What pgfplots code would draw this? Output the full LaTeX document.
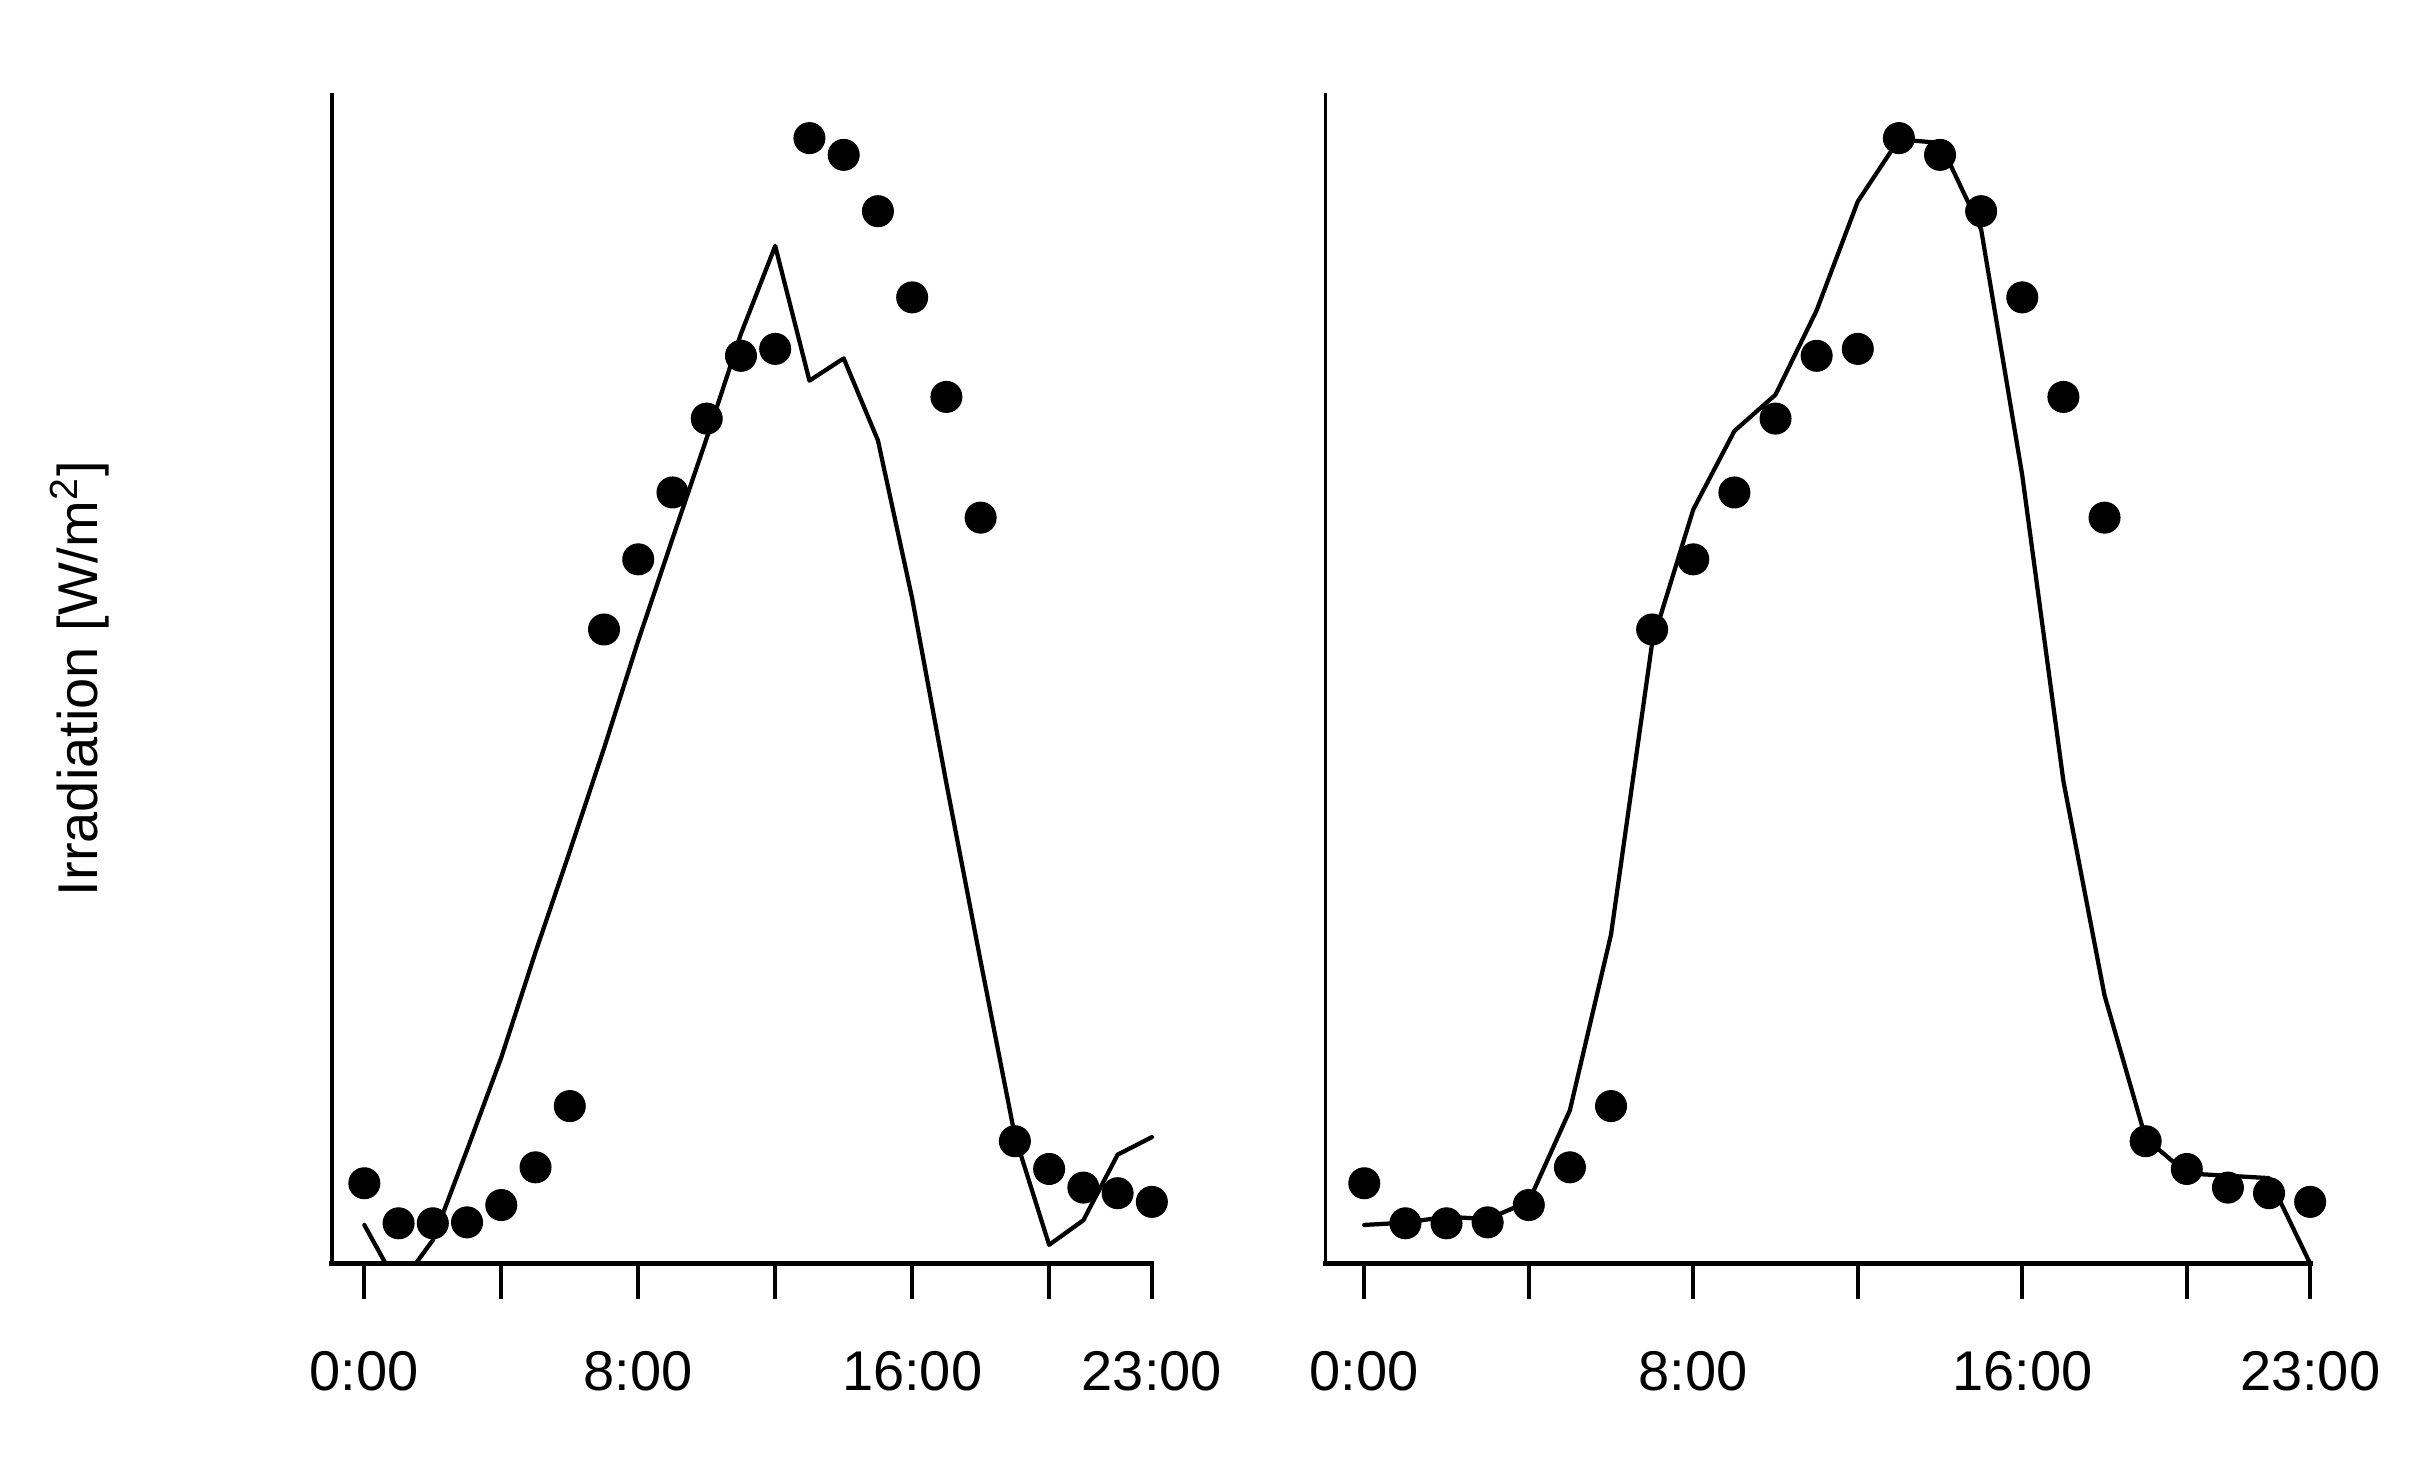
\documentclass[border=0pt]{standalone}
\usepackage{fontspec}
\setmainfont{Liberation Sans}
\usepackage{pgfplots}
\usepackage{pgfplotstable}
\pgfplotsset{compat=1.18}

% hour, measured irradiation (dots), model A (left line), model B (right line)
\pgfplotstableread{
h   dot    lineA  lineB
0   68.6   33     33
1   34.4   -20    35
2   34.4   20     40
3   35.2   97     38
4   50.0   176    53
5   82.2   266    131
6   134.5  352    281
7   541.5  440    530
8   601.4  532    644
9   658.5  619    711
10  721.6  705    742
11  775.2  794    814
12  781.1  869    907
13  961.1  754    960
14  946.8  773    957
15  898.7  703    883
16  825.1  568    673
17  740.1  410    412
18  637.0  258    229
19  104.5  109    107
20  80.8   16     77
21  64.9   37     75
22  60.1   93     73
23  52.7   108    0
}\irrdata

\begin{document}
\begin{tikzpicture}
\useasboundingbox (0,0) rectangle (486.2pt,293.4pt);
\pgfplotsset{
  panel/.style={
    scale only axis, anchor=south west,
    height=234.2pt, ymin=0, ymax=1000,
    axis x line*=bottom, axis y line*=left,
    axis line style={draw=none},
    ytick=\empty,
    xtick={0,4,8,12,16,20,23},
    xticklabels={0:00,,8:00,,16:00,,23:00},
    tick align=outside, major tick length=7pt,
    major tick style={black, line width=0.8pt},
    xticklabel style={font=\fontsize{11.2}{13.4}\selectfont, anchor=north},
    xticklabel shift=7.1pt,
    clip=true,
  },
  dataline/.style={black, line width=0.85pt, line join=round, line cap=round, no marks},
  datadots/.style={only marks, mark=*, mark size=3.1pt, mark options={fill=black, draw=black, line width=0.2pt}},
}
\begin{axis}[panel, at={(66.36pt,40.68pt)}, width=168.8pt, xmin=-0.95, xmax=23.7]
\addplot[dataline] table[x=h, y=lineA]{\irrdata};
\addplot[datadots] table[x=h, y=dot]{\irrdata};
\coordinate (La) at (axis cs:-0.95,1000);
\coordinate (Lb) at (axis cs:-0.95,0);
\coordinate (Lc) at (axis cs:23,0);
\end{axis}
\draw[line width=0.7pt] (La)--(Lb);
\draw[line width=1pt, line cap=rect] (Lb)--(Lc);

\begin{axis}[panel, at={(265.12pt,40.68pt)}, width=201.84pt, xmin=-0.94, xmax=23.6]
\addplot[dataline] table[x=h, y=lineB]{\irrdata};
\addplot[datadots] table[x=h, y=dot]{\irrdata};
\coordinate (Ra) at (axis cs:-0.94,1000);
\coordinate (Rb) at (axis cs:-0.94,0);
\coordinate (Rc) at (axis cs:23,0);
\end{axis}
\draw[line width=0.7pt] (Ra)--(Rb);
\draw[line width=1pt, line cap=rect] (Rb)--(Rc);

\node[rotate=90, anchor=base, font=\fontsize{11.2}{13.4}\selectfont, inner sep=0pt] at (19.5pt,157.7pt) {Irradiation [W/m\textsuperscript{2}]};
\end{tikzpicture}
\end{document}
